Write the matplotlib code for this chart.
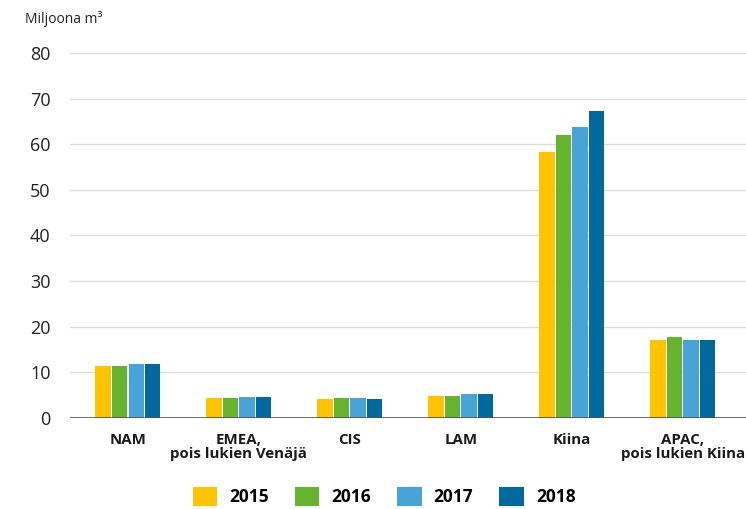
import matplotlib.pyplot as plt
import numpy as np

plt.rcParams['font.family'] = ['Open Sans', 'DejaVu Sans']

categories = ["NAM", "EMEA,\npois lukien Venäjä", "CIS", "LAM", "Kiina", "APAC,\npois lukien Kiina"]
years = ["2015", "2016", "2017", "2018"]
v2015 = [11.4, 4.4, 4.2, 4.8, 58.3, 17.1]
v2016 = [11.4, 4.4, 4.4, 4.8, 62.1, 17.8]
v2017 = [11.8, 4.6, 4.4, 5.3, 63.8, 17.1]
v2018 = [11.8, 4.6, 4.2, 5.3, 67.3, 17.1]
colors = ["#FFC300", "#66B32E", "#48A3D6", "#00699E"]

fig = plt.figure(figsize=(7.46, 5.09), dpi=100)
ax = fig.add_axes([0.094, 0.179, 0.906, 0.717])

x = np.arange(len(categories))
step = 0.149
w = 0.137
for i, (vals, c, lab) in enumerate(zip([v2015, v2016, v2017, v2018], colors, years)):
    ax.bar(x + (i - 1.5) * step, vals, width=w, color=c, label=lab, zorder=3)

ax.set_ylim(0, 80)
ax.set_xlim(-0.52, 5.57)
ax.set_yticks(range(0, 81, 10))
ax.yaxis.grid(True, color="#DCDCDC", linewidth=1, zorder=0)
ax.axhline(0, color="#555555", linewidth=1.2, zorder=4)
for s in ax.spines.values():
    s.set_visible(False)
ax.tick_params(axis='y', length=0, labelsize=13, pad=14, colors="#222222")
ax.tick_params(axis='x', length=0, pad=11)
ax.set_xticks(x)
ax.set_xticklabels(categories, fontsize=10.8, fontweight='bold', linespacing=1.0, color="#1a1a1a")

fig.text(0.033, 0.955, "Miljoona m³", fontsize=10, color="#222222")

fig.legend(loc='lower center', ncol=4, bbox_to_anchor=(0.515, -0.025), frameon=False,
           handlelength=1.4, handleheight=1.3, handletextpad=0.7, columnspacing=1.5,
           prop={'weight': 'bold', 'size': 12.5})

fig.savefig("out.png", dpi=100)
